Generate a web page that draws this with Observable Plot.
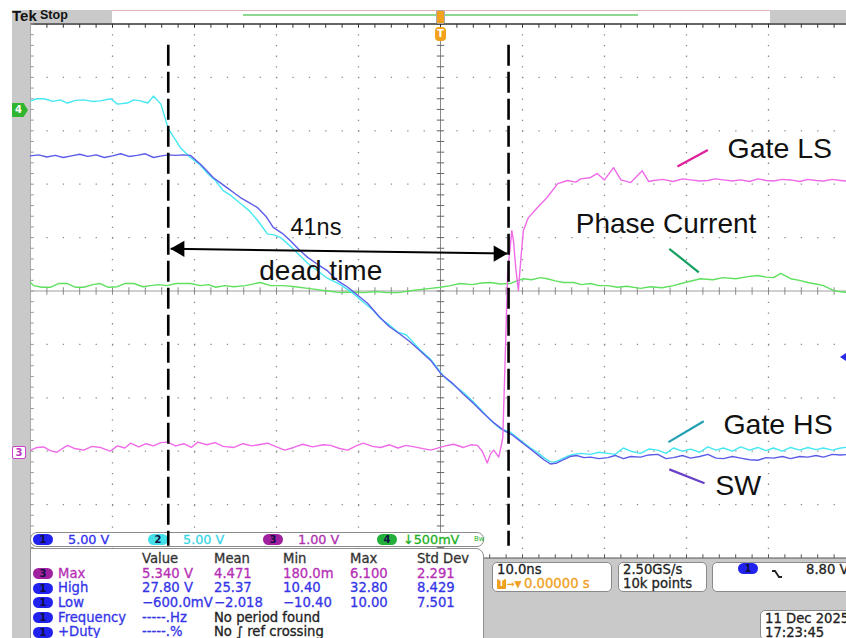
<!DOCTYPE html>
<html><head><meta charset="utf-8">
<script src="https://cdn.jsdelivr.net/npm/d3@7"></script>
<script src="https://cdn.jsdelivr.net/npm/@observablehq/plot@0.6"></script>
<style>
html,body{margin:0;padding:0;background:#fff;overflow:hidden}
#wrap{position:relative;width:846px;height:638px;overflow:hidden;background:#fff;font-family:"DejaVu Sans",sans-serif}
.abs{position:absolute}
.gray{background:#c9c9c9}
.ui{white-space:nowrap;-webkit-text-stroke:0.3px}
.pill{position:absolute;width:20px;height:11px;border-radius:6px;font-size:10px;font-weight:bold;text-align:center;line-height:11px;color:#101040}
.box{position:absolute;background:#fff;border:1px solid #8a8a8a;border-radius:5px;box-sizing:border-box}
</style></head><body><div id="wrap"></div>
<script>
// ---------------- DATA ----------------
// horizontal: time in ns (10 ns/div); vertical: screen divisions
const timeDivs = [-50,-40,-30,-20,-10,0,10,20,30,40,50];
const screenDivs = [-5,-4,-3,-2,-1,0,1,2,3,4,5];
const deadTimeCursors = [-33.2, 8.3];
const labelTexts = ["Gate LS","Phase Current","Gate HS","SW","41ns","dead time"];

const gateHS = [[-50,3.56],[-49.2,3.60],[-48.4,3.60],[-47.2,3.55],[-46.4,3.58],[-45.5,3.52],[-44.5,3.57],[-43.5,3.58],[-42.5,3.55],[-41.5,3.56],[-40.2,3.60],[-39.4,3.50],[-38.2,3.52],[-37.4,3.58],[-36.6,3.56],[-35.7,3.52],[-35.0,3.65],[-34.1,3.50],[-33.2,3.04],[-31.7,2.68],[-30.5,2.50],[-29.3,2.36],[-28.4,2.20],[-27.4,2.06],[-26.5,1.88],[-25.5,1.78],[-24.4,1.64],[-23.3,1.50],[-22.3,1.32],[-21.1,1.07],[-20.3,1.05],[-19.5,1.00],[-18.4,0.85],[-17.4,0.70],[-16.2,0.52],[-15.0,0.38],[-13.8,0.24],[-12.2,0.12],[-10.6,-0.05],[-9.4,-0.21],[-8.2,-0.36],[-7.3,-0.52],[-6.2,-0.64],[-5.2,-0.77],[-4.2,-0.82],[-3.7,-0.90],[-2.5,-1.10],[-1.2,-1.28],[0.4,-1.60],[1.6,-1.76],[2.8,-1.90],[3.9,-2.06],[4.9,-2.22],[6.1,-2.42],[7.3,-2.58],[8.5,-2.64],[9.3,-2.74],[10.1,-2.84],[11.0,-2.94],[11.8,-3.02],[12.6,-3.12],[13.4,-3.20],[14.0,-3.20],[14.6,-3.16],[15.4,-3.10],[16.2,-3.06],[17.1,-3.04],[18.3,-3.06],[19.3,-3.02],[20.4,-3.04],[21.3,-3.06],[22.3,-2.94],[23.2,-3.00],[24.4,-3.04],[25.4,-2.96],[26.5,-2.98],[27.5,-3.04],[28.4,-2.94],[29.5,-3.00],[30.5,-2.96],[31.6,-3.02],[32.6,-2.92],[33.6,-2.98],[34.5,-2.94],[35.6,-3.00],[36.6,-2.92],[37.7,-2.98],[38.7,-2.93],[39.7,-2.99],[40.6,-2.94],[41.7,-3.00],[42.7,-2.93],[43.8,-2.98],[44.8,-2.93],[45.8,-2.97],[46.7,-2.94],[47.8,-2.98],[48.8,-2.94],[50,-2.92]];

const sw = [[-50,2.53],[-49,2.55],[-48,2.51],[-47,2.54],[-46,2.50],[-45,2.53],[-44,2.56],[-43,2.52],[-42,2.55],[-41,2.50],[-40,2.53],[-39,2.57],[-38,2.52],[-37,2.54],[-36,2.57],[-35,2.50],[-34,2.53],[-33.2,2.55],[-32.3,2.54],[-31.4,2.55],[-30.5,2.54],[-29.3,2.38],[-28.5,2.25],[-27.7,2.12],[-26.8,2.02],[-26.0,1.93],[-25.2,1.84],[-24.4,1.75],[-23.4,1.66],[-22.3,1.56],[-21.3,1.40],[-20.4,1.19],[-19.3,1.08],[-18.3,0.94],[-17.3,0.78],[-16.2,0.63],[-15.0,0.50],[-13.8,0.38],[-12.6,0.20],[-11.3,0.07],[-10.1,-0.08],[-8.9,-0.23],[-7.6,-0.46],[-6.3,-0.66],[-5.0,-0.80],[-3.8,-0.94],[-2.5,-1.12],[-1.2,-1.30],[0.1,-1.56],[1.4,-1.72],[2.7,-1.92],[4.0,-2.10],[5.3,-2.30],[6.6,-2.48],[7.8,-2.62],[8.8,-2.70],[9.8,-2.82],[10.8,-2.94],[11.8,-3.06],[12.6,-3.16],[13.4,-3.24],[14.2,-3.22],[15.0,-3.16],[15.8,-3.10],[16.6,-3.08],[17.5,-3.12],[18.3,-3.11],[19.3,-3.14],[20.4,-3.12],[21.3,-3.08],[22.3,-3.14],[23.2,-3.10],[24.4,-3.11],[25.4,-3.07],[26.5,-3.06],[27.5,-3.14],[28.4,-3.12],[29.5,-3.08],[30.5,-3.13],[31.6,-3.10],[32.6,-3.06],[33.6,-3.13],[34.5,-3.14],[35.6,-3.10],[36.6,-3.13],[37.7,-3.16],[38.7,-3.17],[39.7,-3.12],[40.6,-3.13],[41.7,-3.10],[42.7,-3.14],[43.8,-3.10],[44.8,-3.11],[45.8,-3.08],[46.7,-3.11],[47.8,-3.06],[48.8,-3.07],[50,-3.06]];

const gateLS = [[-50,-2.98],[-49.2,-2.93],[-48.4,-2.92],[-47.6,-2.99],[-46.8,-3.02],[-45.5,-2.89],[-44.6,-2.95],[-43.5,-2.98],[-42.5,-2.91],[-41.5,-2.93],[-40.3,-3.00],[-39.4,-2.90],[-38.5,-2.94],[-37.8,-2.85],[-36.8,-2.92],[-35.9,-2.86],[-35.0,-2.90],[-34.1,-2.84],[-33.3,-2.83],[-32.3,-2.90],[-31.3,-2.86],[-30.4,-2.93],[-29.6,-2.83],[-28.5,-2.88],[-27.5,-2.84],[-26.5,-2.91],[-25.2,-2.93],[-24.1,-2.86],[-23.0,-2.90],[-21.1,-2.85],[-20.0,-2.92],[-19.0,-2.98],[-17.9,-2.93],[-16.8,-2.87],[-15.6,-2.92],[-14.3,-2.88],[-13.4,-2.89],[-12.3,-2.95],[-11.3,-2.98],[-10.3,-2.90],[-9.4,-2.85],[-8.3,-2.91],[-7.3,-2.93],[-6.2,-2.88],[-5.2,-2.94],[-4.2,-2.89],[-3.2,-2.92],[-1.2,-2.98],[0.6,-2.90],[1.6,-2.87],[2.8,-2.93],[3.7,-2.88],[4.5,-2.89],[5.1,-3.00],[5.7,-3.22],[6.1,-3.05],[6.5,-2.98],[7.1,-3.11],[7.4,-2.90],[7.6,-2.74],[7.9,-1.2],[8.2,0.38],[8.7,1.13],[8.9,0.94],[9.2,0.40],[9.5,0.01],[9.8,0.6],[10.1,1.13],[10.7,1.37],[11.8,1.56],[13.0,1.75],[14.3,2.01],[15.5,2.07],[16.5,2.04],[17.1,2.10],[18.2,2.12],[19.1,2.20],[20.0,2.08],[21.1,2.31],[22.0,2.08],[23.2,2.03],[24.6,2.25],[25.4,2.05],[26.0,2.07],[27.1,2.09],[28.4,2.05],[29.5,2.10],[30.5,2.08],[31.6,2.06],[32.6,2.07],[33.5,2.10],[34.5,2.08],[35.6,2.06],[36.6,2.08],[37.7,2.05],[38.7,2.10],[39.7,2.07],[40.6,2.06],[41.7,2.09],[42.7,2.08],[43.8,2.05],[44.8,2.09],[45.8,2.07],[46.7,2.06],[47.8,2.09],[48.8,2.07],[50,2.05]];

const phaseCurrent = [[-50,0.16],[-49.6,0.10],[-48.6,0.07],[-47.6,0.07],[-46.6,0.14],[-45.5,0.14],[-44.5,0.07],[-43.5,0.07],[-42.4,0.12],[-41.5,0.14],[-40.5,0.07],[-39.4,0.08],[-38.5,0.14],[-37.4,0.14],[-36.3,0.08],[-35.4,0.10],[-34.4,0.12],[-33.3,0.10],[-32.3,0.14],[-31.3,0.14],[-30.5,0.14],[-29.3,0.10],[-28.3,0.12],[-27.4,0.07],[-26.3,0.10],[-25.2,0.08],[-23.8,0.10],[-22.0,0.16],[-20.7,0.10],[-19.1,0.10],[-17.7,0.08],[-16.2,0.05],[-15.2,0.03],[-14.3,0.01],[-13.2,-0.01],[-12.2,-0.03],[-10.8,-0.02],[-9.4,-0.03],[-7.8,-0.01],[-6.5,-0.03],[-5.2,-0.03],[-3.4,0.01],[-1.2,0.05],[0,0.07],[1.2,0.10],[2.4,0.14],[3.8,0.12],[5.0,0.15],[6.1,0.16],[7.3,0.13],[8.5,0.14],[9.3,0.19],[10.1,0.23],[11.1,0.21],[12.2,0.25],[13.0,0.23],[14.0,0.19],[15.0,0.16],[16.2,0.16],[17.2,0.12],[18.3,0.14],[19.3,0.10],[20.4,0.10],[21.6,0.07],[22.7,0.09],[24.4,0.05],[25.6,0.08],[27.0,0.06],[28.4,0.10],[29.8,0.16],[31.7,0.23],[33.2,0.21],[34.5,0.25],[36.0,0.23],[37.5,0.27],[38.7,0.29],[39.7,0.26],[40.6,0.25],[41.5,0.33],[42.7,0.23],[43.8,0.20],[44.8,0.16],[45.8,0.13],[46.7,0.10],[47.9,0.01],[49.0,-0.02],[50,-0.03]];

const channelNumbers = ["1","2","3","4"];
const channelScales = ["5.00 V","5.00 V","1.00 V","\u2193500mV"];
const measHeaders = ["Value","Mean","Min","Max","Std Dev"];
const measMax  = ["5.340 V","4.471","180.0m","6.100","2.291"];
const measHigh = ["27.80 V","25.37","10.40","32.80","8.429"];
const measLow  = ["\u2212600.0mV","\u22122.018","\u221210.40","10.00","7.501"];
const measFreq = ["-----.Hz","No period found"];
const measDuty = ["-----.%","No \u222B ref crossing"];
const horizontalInfo = ["10.0ns","0.00000 s"];
const acqInfo = ["2.50GS/s","10k points"];
const triggerLevel = "8.80 V";
const dateInfo = ["11 Dec  2025","17:23:45"];

// ---------------- LAYOUT ----------------
const wrap = document.getElementById("wrap");
function div(l,t,w,h,cls,css){const d=document.createElement("div");d.className="abs "+(cls||"");Object.assign(d.style,{left:l+"px",top:t+"px",width:w+"px",height:h+"px"},css||{});wrap.appendChild(d);return d;}
function txt(x,base,s,color,fs,css){fs=fs||13.2;const d=document.createElement("div");d.className="abs ui";Object.assign(d.style,{left:x+"px",top:(base-0.846*fs)+"px",fontSize:fs+"px",lineHeight:fs+"px",color:color||"#222"},css||{});d.textContent=s;wrap.appendChild(d);return d;}
function pill(x,cy,bg,n){const d=document.createElement("div");d.className="pill";d.style.left=x+"px";d.style.top=(cy-5.5)+"px";d.style.background=bg;d.textContent=n;wrap.appendChild(d);return d;}

// layer 0: backgrounds
div(12,10,18,628,"gray");
div(12,10,100,13,"gray");
div(112,10,658,13,"",{background:"#fff",borderTop:"1px solid #e2b4b4",boxSizing:"border-box"});
div(243,14,395,2,"",{background:"#8fd88f"});
div(770,10,76,13,"gray");
div(12,558,834,80,"gray");

// layer 1: scope screen
const X = {domain:[-50,50], range:[30,850], axis:null};
const Y = {domain:[-5,5], range:[557.5,23.5], axis:null};
const xMinor = d3.range(-50, 50.001, 2);
const yMinor = d3.range(-5, 5.001, 0.2);
const xMajor = timeDivs.filter(d => d !== 0 && Math.abs(d) !== 50);
const yMajor = screenDivs.filter(d => d !== 0 && Math.abs(d) !== 5);
const P = d => d[0], V = d => d[1];
const scope = Plot.plot({
  width:846, height:638, margin:0, x:X, y:Y,
  style:{background:"transparent", position:"absolute", left:"0px", top:"0px", overflow:"visible"},
  marks:[
    Plot.ruleX(xMajor, {y1:5, y2:-5, stroke:"#8a8a8a", strokeWidth:1.3, strokeDasharray:"1.3,9.4"}),
    Plot.ruleY(yMajor, {x1:-50, x2:50, stroke:"#8a8a8a", strokeWidth:1.3, strokeDasharray:"1.3,15.1"}),
    Plot.ruleX([0], {y1:5, y2:-5, stroke:"#8a8a8a", strokeWidth:1}),
    Plot.ruleY([0], {x1:-50, x2:50, stroke:"#a0a0a0", strokeWidth:1}),
    Plot.link(yMinor, {x1:-0.45, x2:0.45, y1:d=>d, y2:d=>d, stroke:"#666", strokeWidth:1}),
    Plot.link(xMinor, {x1:d=>d, x2:d=>d, y1:-0.07, y2:0.07, stroke:"#888", strokeWidth:1}),
    Plot.ruleY([5], {x1:-50, x2:50, stroke:"#333", strokeWidth:1.5}),
    Plot.link(xMinor, {x1:d=>d, x2:d=>d, y1:5, y2:4.93, stroke:"#333", strokeWidth:1}),
    Plot.ruleY([-5], {x1:-50, x2:50, stroke:"#555", strokeWidth:1.2}),
    Plot.link(xMinor, {x1:d=>d, x2:d=>d, y1:-5, y2:-4.93, stroke:"#555", strokeWidth:1}),
    Plot.ruleX([-50], {y1:5, y2:-5, stroke:"#aaa", strokeWidth:1}),
    Plot.link(yMinor, {x1:-50, x2:-49.6, y1:d=>d, y2:d=>d, stroke:"#999", strokeWidth:1}),
    Plot.line(phaseCurrent, {x:P, y:V, stroke:"#5fe05f", strokeWidth:1.4}),
    Plot.line(gateHS, {x:P, y:V, stroke:"#45e8f2", strokeWidth:1.4}),
    Plot.line(sw, {x:P, y:V, stroke:"#5c5ce8", strokeWidth:1.4}),
    Plot.line(gateLS, {x:P, y:V, stroke:"#f06ae8", strokeWidth:1.4})
  ]
});
wrap.appendChild(scope);

// layer 2: UI panels
txt(12,21,"Tek",  "#111",15,{fontFamily:"Liberation Sans, Arial, sans-serif",fontWeight:"bold",webkitTextStroke:"0px"});
txt(40,20,"Stop", "#111",12.5,{fontFamily:"Liberation Sans, Arial, sans-serif",fontWeight:"bold",webkitTextStroke:"0px"});
// trigger position markers
div(436,10,9,14,"",{border:"1px solid #aaa",background:"#f4a21c",borderRadius:"2px",boxSizing:"border-box"});
const tp = div(435,27,11,14,"",{background:"#f4a21c",borderRadius:"4px",color:"#fff",fontSize:"10px",fontWeight:"bold",textAlign:"center",lineHeight:"14px"}); tp.textContent="T";
// channel ground markers
const m4 = div(12,103,16,14,"",{background:"#2fb52f",clipPath:"polygon(0 0,72% 0,100% 50%,72% 100%,0 100%)",color:"#fff",fontSize:"10px",fontWeight:"bold",lineHeight:"14px",paddingLeft:"3px",boxSizing:"border-box"}); m4.textContent=channelNumbers[3];
const m3 = div(12,446,14,13,"",{background:"#fff",border:"1px solid #d040d0",borderRadius:"2px",color:"#c030c0",fontSize:"10px",fontWeight:"bold",lineHeight:"11px",textAlign:"center",boxSizing:"border-box"}); m3.textContent=channelNumbers[2];
div(840,353,6,8,"",{background:"#2a2ae6",clipPath:"polygon(0 50%,100% 0,100% 100%)"});

// channel bar
div(30,532,454,15,"box",{borderRadius:"7px"});
const chCols = [["#2222ee","#3333ee"],["#44e0ea","#3cd6e6"],["#a020a0","#b030b0"],["#22b03a","#22b022"]];
const chX = [33,148,263,377];
channelNumbers.forEach((n,i)=>{pill(chX[i],539.5,chCols[i][0],n); txt(chX[i]+(i===3?26:35),544.5,channelScales[i],chCols[i][1],12.8);});
txt(474,542,"Bw","#22b022",7,{webkitTextStroke:"0px"});

// measurement panel
div(30,548,454,100,"",{background:"#fff",border:"1px solid #909090",borderRadius:"0 8px 0 0",boxSizing:"border-box"});
const colX = [142,214,283,350,417];
measHeaders.forEach((h,i)=>txt(colX[i],563,h,"#333"));
const rowBase = [578,592.5,607,622,636.5];
const mag="#b530b5", blu="#3535e8";
pill(33,rowBase[0]-4.5,"#a020a0","3"); txt(58,rowBase[0],"Max",mag);
measMax.forEach((v,i)=>txt(colX[i],rowBase[0],v,mag));
pill(33,rowBase[1]-4.5,"#2222ee","1"); txt(58,rowBase[1],"High",blu);
measHigh.forEach((v,i)=>txt(colX[i],rowBase[1],v,blu));
pill(33,rowBase[2]-4.5,"#2222ee","1"); txt(58,rowBase[2],"Low",blu);
measLow.forEach((v,i)=>txt(colX[i],rowBase[2],v,blu));
pill(33,rowBase[3]-4.5,"#2222ee","1"); txt(58,rowBase[3],"Frequency",blu);
txt(colX[0],rowBase[3],measFreq[0],blu); txt(colX[1],rowBase[3],measFreq[1],"#222");
pill(33,rowBase[4]-4.5,"#2222ee","1"); txt(58,rowBase[4],"+Duty",blu);
txt(colX[0],rowBase[4],measDuty[0],blu); txt(colX[1],rowBase[4],measDuty[1],"#222");

// right status boxes
div(492,562,120,30,"box");
txt(497,574,horizontalInfo[0],"#222");
const tb = div(497,579,9,10,"",{background:"#f0a020",color:"#fff",fontSize:"8px",fontWeight:"bold",textAlign:"center",lineHeight:"10px",borderRadius:"1px"}); tb.textContent="T";
txt(507,588,"\u2192\u25BC","#f0a020",9);
txt(524,588,horizontalInfo[1],"#f0a020");
div(618,562,89,30,"box");
txt(623,574,acqInfo[0],"#222");
txt(623,588,acqInfo[1],"#222");
div(712,562,150,30,"box");
pill(738,568.5,"#2222ee","1");
const edge = div(772,564,10,10,"");
edge.innerHTML = '<svg width="10" height="10"><path d="M0,2H3L7,8H10" fill="none" stroke="#222" stroke-width="1.8"/></svg>';
txt(806,574,triggerLevel,"#222");
div(760,610,100,30,"box");
txt(765,623,dateInfo[0],"#222");
txt(765,637,dateInfo[1],"#222");

// layer 3: annotations
const arrowTips = [[deadTimeCursors[0]+0.3, 0.79],[deadTimeCursors[1]-0.15, 0.70]];
const labelPos = [[35.0,2.50,28.5],[16.5,1.09,28],[34.5,-2.68,28.5],[33.5,-3.82,28.5],[-18.3,1.04,23.5],[-22.1,0.20,28]];
const leaders = [
  {x1:28.9,y1:2.33,x2:32.6,y2:2.64,c:"#e0209a"},
  {x1:27.9,y1:0.79,x2:31.5,y2:0.35,c:"#14a060"},
  {x1:27.8,y1:-2.83,x2:32.1,y2:-2.44,c:"#20a0b0"},
  {x1:27.9,y1:-3.34,x2:32.2,y2:-3.60,c:"#6a40c8"}
];
const labels = labelTexts.map((t,i)=>({t, x:labelPos[i][0], y:labelPos[i][1], fs:labelPos[i][2]}));
const ann = Plot.plot({
  width:846, height:638, margin:0, x:X, y:Y,
  style:{background:"transparent", position:"absolute", left:"0px", top:"0px", overflow:"visible"},
  marks:[
    Plot.ruleX(deadTimeCursors, {y1:4.6, y2:-4.78, stroke:"#000", strokeWidth:2.6, strokeDasharray:"21,6"}),
    Plot.link([arrowTips], {x1:d=>d[0][0], y1:d=>d[0][1], x2:d=>d[1][0], y2:d=>d[1][1], stroke:"#000", strokeWidth:2}),
    Plot.dot([arrowTips[0]], {x:P, y:V, symbol:"triangle", r:6, rotate:-90, dx:9, fill:"#000", stroke:"none"}),
    Plot.dot([arrowTips[1]], {x:P, y:V, symbol:"triangle", r:6, rotate:90, dx:-9, fill:"#000", stroke:"none"}),
    Plot.link(leaders, {x1:"x1", y1:"y1", x2:"x2", y2:"y2", stroke:d=>d.c, strokeWidth:2.2}),
    ...labels.map(l => Plot.text([l], {x:"x", y:"y", text:"t", fontSize:l.fs, textAnchor:"start", lineAnchor:"bottom", fill:"#111", fontFamily:"Liberation Sans, Arial, sans-serif"}))
  ]
});
wrap.appendChild(ann);
</script>
</body></html>
